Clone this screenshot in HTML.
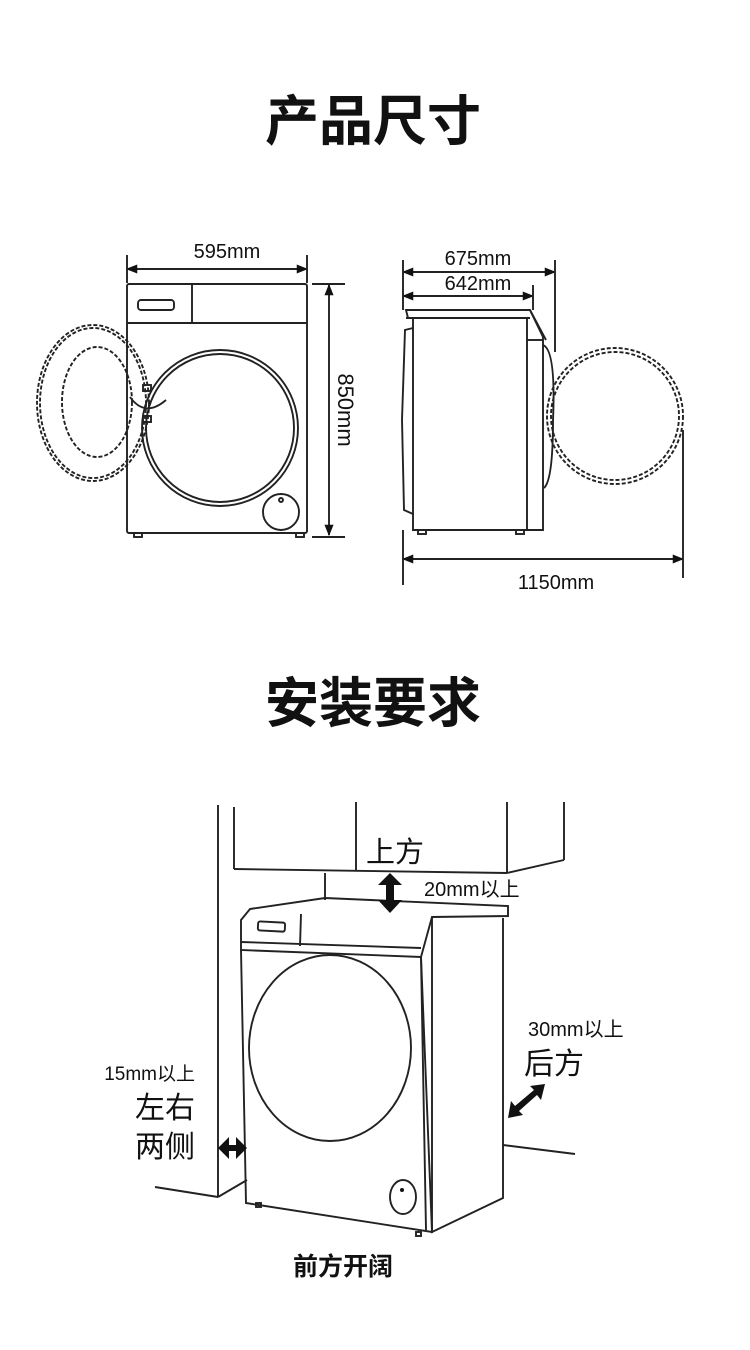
<!DOCTYPE html>
<html><head><meta charset="utf-8"><style>
body{margin:0;background:#fff}
svg{display:block}
text{font-family:"Liberation Sans","Noto Sans CJK SC",sans-serif;fill:#111}
</style></head><body>
<svg width="750" height="1350" viewBox="0 0 750 1350" xmlns="http://www.w3.org/2000/svg">
<defs>
<marker id="a" viewBox="0 0 10 10" refX="9" refY="5" markerWidth="6" markerHeight="6" orient="auto-start-reverse"><path d="M0,1 L10,5 L0,9 z" fill="#111"/></marker>
</defs>
<text x="373" y="140" font-size="54" font-weight="bold" text-anchor="middle">产品尺寸</text>
<text x="373" y="722" font-size="54" font-weight="bold" text-anchor="middle">安装要求</text>

<g stroke="#222" fill="none" stroke-width="1.9">
<rect x="127" y="284" width="180" height="249" rx="2"/>
<line x1="127" y1="323" x2="307" y2="323"/>
<line x1="192" y1="284" x2="192" y2="323"/>
<rect x="138" y="300" width="36" height="10" rx="3"/>
<circle cx="220" cy="428" r="78"/>
<circle cx="220" cy="428" r="74"/>
<circle cx="281" cy="512" r="18"/>
<circle cx="281" cy="500" r="2"/>
<rect x="134" y="533" width="8" height="4"/><rect x="296" y="533" width="8" height="4"/>
<ellipse cx="93" cy="403" rx="56" ry="78" stroke-dasharray="4,2"/>
<ellipse cx="93" cy="403" rx="53" ry="75" stroke-dasharray="4,2"/>
<ellipse cx="97" cy="402" rx="35" ry="55" stroke-dasharray="4,2"/>
<rect x="143" y="385" width="8" height="6"/><rect x="143" y="416" width="8" height="6"/>
<path d="M130,397 Q145,418 166,400"/>
<line x1="127" y1="269" x2="307" y2="269" marker-start="url(#a)" marker-end="url(#a)"/>
<line x1="127" y1="255" x2="127" y2="283"/><line x1="307" y1="255" x2="307" y2="283"/>
<line x1="329" y1="285" x2="329" y2="535" marker-start="url(#a)" marker-end="url(#a)"/>
<line x1="312" y1="284" x2="345" y2="284"/><line x1="312" y1="537" x2="345" y2="537"/>

<path d="M406,310 L530,310 L543,337 L543,530 L413,530 L413,318 L408,318 Z"/>
<line x1="406" y1="318" x2="530" y2="318"/>
<line x1="527" y1="318" x2="527" y2="530"/>
<path d="M527,340 L543,340"/>
<path d="M530,310 L546,340"/>
<path d="M543,345 Q556,350 553,420 Q553,480 544,488"/>
<path d="M413,328 L405,330 L402,420 L404,510 L413,514"/>
<rect x="418" y="530" width="8" height="4"/><rect x="516" y="530" width="8" height="4"/>
<circle cx="615" cy="416" r="68" stroke-dasharray="4,2"/>
<circle cx="615" cy="416" r="64" stroke-dasharray="4,2"/>
<line x1="403" y1="272" x2="555" y2="272" marker-start="url(#a)" marker-end="url(#a)"/>
<line x1="403" y1="296" x2="533" y2="296" marker-start="url(#a)" marker-end="url(#a)"/>
<line x1="403" y1="260" x2="403" y2="310"/><line x1="555" y1="260" x2="555" y2="352"/><line x1="533" y1="285" x2="533" y2="310"/>
<line x1="403" y1="559" x2="683" y2="559" marker-start="url(#a)" marker-end="url(#a)"/>
<line x1="403" y1="530" x2="403" y2="585"/><line x1="683" y1="430" x2="683" y2="578"/>

<line x1="218" y1="805" x2="218" y2="1197"/>
<line x1="155" y1="1187" x2="218" y2="1197"/>
<line x1="218" y1="1197" x2="247" y2="1180"/>
<line x1="234" y1="807" x2="234" y2="869"/>
<line x1="234" y1="869" x2="507" y2="873"/>
<line x1="356" y1="802" x2="356" y2="870"/>
<line x1="507" y1="802" x2="507" y2="873"/>
<line x1="507" y1="873" x2="564" y2="860"/>
<line x1="564" y1="802" x2="564" y2="860"/>
<line x1="325" y1="873" x2="325" y2="900"/>
<path d="M250,909 L325,898 L508,906 L508,916 L432,917 L421,957 L241,950 L241,920 Z"/>
<line x1="241" y1="942" x2="421" y2="948"/>
<line x1="301" y1="914" x2="300" y2="946"/>
<rect x="258" y="922" width="27" height="9" rx="2" transform="rotate(3 271 926)"/>
<path d="M241,950 L246,1203 L432,1232 L421,957"/>
<path d="M421,957 L426,1230"/>
<path d="M432,917 L432,1232 L503,1198 L503,918"/>
<ellipse cx="330" cy="1048" rx="81" ry="93"/>
<ellipse cx="403" cy="1197" rx="13" ry="17"/>
<rect x="256" y="1203" width="5" height="4"/><rect x="416" y="1232" width="5" height="4"/>
<line x1="503" y1="1145" x2="575" y2="1154"/>
</g>
<g fill="#111" stroke="none">
<path d="M390,873 L402,885 L394,885 L394,900 L402,900 L390,913 L378,900 L386,900 L386,885 L378,885 Z"/>
<path d="M218,1148 L229,1137 L229,1145 L236,1145 L236,1137 L247,1148 L236,1159 L236,1151 L229,1151 L229,1159 Z"/>
<path d="M508,1118 L511,1101 L515,1106 L534,1090 L530,1086 L545,1084 L541,1100 L537,1095 L519,1111 L523,1115 Z"/>
<circle cx="402" cy="1190" r="2"/>
</g>
<text x="227" y="258" font-size="20" text-anchor="middle">595mm</text>
<text transform="translate(338,410) rotate(90)" font-size="22" text-anchor="middle">850mm</text>
<text x="478" y="265" font-size="20" text-anchor="middle">675mm</text>
<text x="478" y="290" font-size="20" text-anchor="middle">642mm</text>
<text x="556" y="589" font-size="20" text-anchor="middle">1150mm</text>
<text x="366" y="862" font-size="29">上方</text>
<text x="424" y="896" font-size="20">20mm以上</text>
<text x="528" y="1036" font-size="20">30mm以上</text>
<text x="524" y="1074" font-size="30">后方</text>
<text x="195" y="1080" font-size="19" text-anchor="end">15mm以上</text>
<text x="195" y="1118" font-size="30" text-anchor="end">左右</text>
<text x="195" y="1157" font-size="30" text-anchor="end">两侧</text>
<text x="343" y="1275" font-size="25" font-weight="bold" text-anchor="middle">前方开阔</text>
</svg>
</body></html>
